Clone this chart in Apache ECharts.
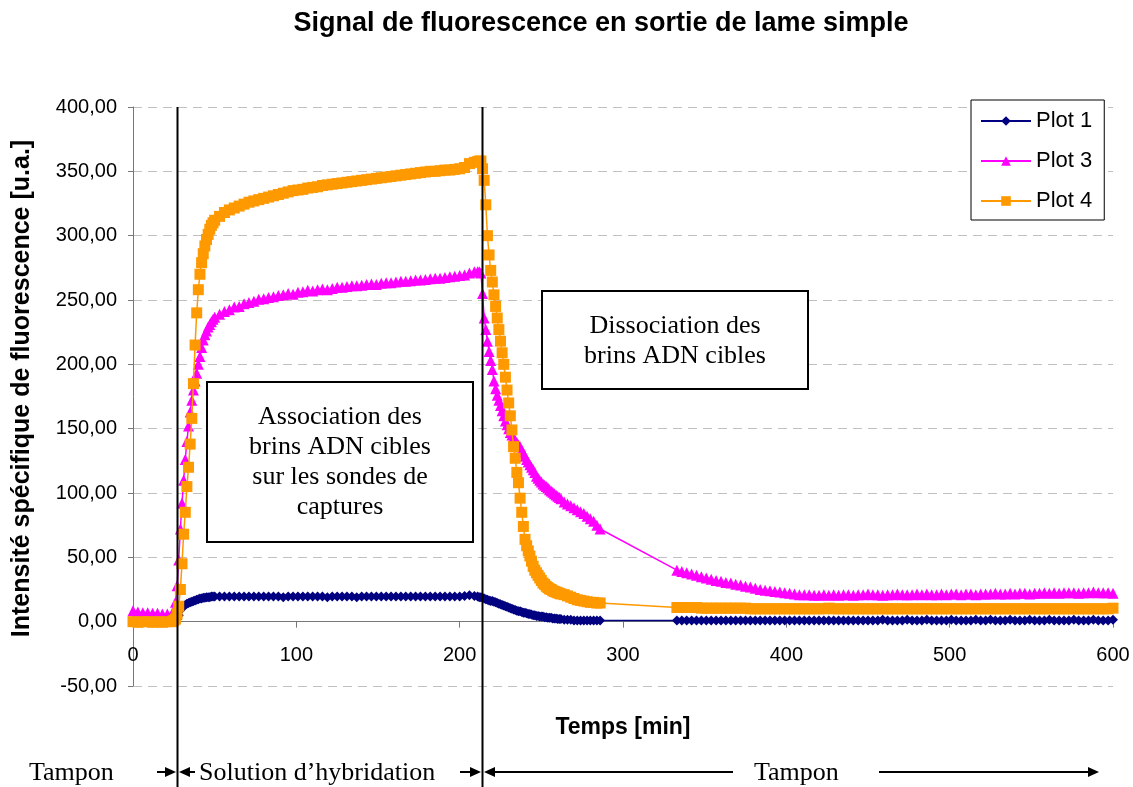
<!DOCTYPE html>
<html><head><meta charset="utf-8">
<script src="https://cdn.jsdelivr.net/npm/echarts@6/dist/echarts.min.js"></script>
<style>html,body{margin:0;padding:0;background:#fff}#c{width:1133px;height:787px}</style>
</head><body><div id="c"></div>
<script>
// ---------- DATA (time in min, values in u.a.) ----------
const titleText = 'Signal de fluorescence en sortie de lame simple';
const xName = 'Temps [min]';
const yName = 'Intensité spécifique de fluorescence [u.a.]';
const seriesNames = ['Plot 1', 'Plot 3', 'Plot 4'];
const phaseTimes = [27.2, 213.6];

// segment A : buffer
const tA  = [0,3,6,9,12,15,18,21,24];
const p1A = [0.5,0.5,0.5,0.5,0.5,0.5,0.5,0.5,0.5];
const p3A = [8.5,7.5,7,7,6.5,6.5,6,6,6.5];
const p4A = [0,-0.5,0,0,-0.5,0,-0.5,0,0];
// segment B : association rise
const tB  = [25,26,27,28,29,30,31,32,33,34,35,36,37,38,39,40,41,42,43,44,45,46,47,48,49,50];
const p1B = [0.5,1,2,5,9,11,12,13,14,14.5,15,15.5,16,16.5,17,17.5,18,18,18.5,18.5,19,19,19,19.5,19.5,19.5];
const p3B = [8,15,28,48,72,92,110,126,140,152,163,172,180,187,193,200,206,213,219,223,226,229,231,233,235,236.5];
const p4B = [1,2,6,12,25,45,68,85,105,120,138,158,185,215,240,258,270,279,286,292,297,301,305,308,310,312];
// segment C : association plateau
const tC  = [53,56,59,62,65,68,71,74,77,80,83,86,89,92,95,98,101,104,107,110,113,116,119,122,125,128,131,134,137,140,143,146,149,152,155,158,161,164,167,170,173,176,179,182,185,188,191,194,197,200,203,206,209];
const p1C = [19.5,19.5,19.5,19.5,19.5,19.5,19.5,19.5,19.5,19.5,
             19.5,19.5,19.5,19,19.5,19.5,19.5,19.5,19.5,19.5,
             19.5,19.5,19,19.5,19.5,19.5,19.5,19.5,19,19.5,
             19.5,19.5,19.5,19.5,19.5,19.5,19.5,19.5,19.5,19.5,
             19.5,19.5,19.5,19.5,19.5,19.5,19.5,19.5,19.5,19.5,
             20,20.5,20];
const p3C = [239,241,242.5,244.5,245,247,248,249,250.5,251,
             252,252.5,253.5,254,255,254.5,256,256.5,257.5,257,
             258,258.5,258,259,260,260,260.5,261,261,261.5,
             262,262.5,262,263,263.5,263.5,264,264.5,264.5,265,
             265.5,265.5,266,266.5,267,267,267.5,268,268.5,269,
             269.5,271,272];
const p4C = [315,318,320,321.5,323,324.5,326,327,328,329,
             330,331,332,333,334,335,335.5,336,337,337.5,
             338,339,339.5,340,340.5,341,341.5,342,342.5,343,
             343.5,344,344.5,345,345.5,346,346.5,347,347.5,348,
             348.5,349,349.5,350,350,350.5,351,351,351.5,352,
             353,356,357];
// segment D : dissociation
const tD  = [211,212,213,214,215,216,217,218,219,220,221,222,223,224,225,226,227,228,229,230,231,232,233,234,235,236,237,238,239,240,241,242,243,244,245,246,247,248,249,250,251,252,253,254,255,256,257,258,259,260,261,262];
const p1D = [19.5,19,19,18.5,18,17.5,17,16.5,16,16,
             15.5,15,14.5,14,13.5,13,12.5,12,11.5,11,
             10.5,10,9.5,9,8.5,8,8,7.5,7,7,
             6.5,6,6,5.5,5,5,4.5,4.5,4,4,
             4,3.5,3.5,3,3,3,2.5,2.5,2.5,2,
             2,2];
const p3D = [272,272,271,255,236,227,218,210,203,196,
             187,181,176,172,168,164,160,156,153,150,
             147,145,143,141,139,137.5,136,133.5,131,128.5,
             126,124,122,120,118,116,113,111.5,110,108.5,
             107,106,105,104,102.5,101.5,100.5,99.5,98.5,97.5,
             96.5,95.5];
const p4D = [357.5,358,358,352,343,324,300,285,273,264,
             254,245,236,227,218,209,200,190,180,170,
             160,149,136,127,116,108,96,85,74,64,
             59,55,51,47,43,40,38,36,34,32,
             30,29,27.5,26.5,25.5,25,24,23.5,23,22.5,
             22,21.5];
// segment E : end of first dissociation recording
const tE  = [264,266,268,270,272,274,276,278,280,282,284,286];
const p1E = [1.5,1.5,1.5,1,1,1,1,1,1,1,1,1];
const p3E = [93,91.5,90,88.5,87,85.5,84,82,80,78,75,72];
const p4E = [21,20,19,18,17,16.5,16,15.5,15,15,14.5,14.5];
// segment F : buffer, second recording
const tF  = [333,336,339,342,345,348,351,354,357,360,363,366,369,372,375,378,381,384,387,390,
             393,396,399,402,405,408,411,414,417,420,423,426,429,432,435,438,441,444,447,450,
             453,456,459,462,465,468,471,474,477,480,483,486,489,492,495,498,501,504,507,510,
             513,516,519,522,525,528,531,534,537,540,543,546,549,552,555,558,561,564,567,570,
             573,576,579,582,585,588,591,594,597,600];
const p1F = [1,1,1,1,1,1,1,1,1,1,
             1,1,1,1,1,1,1,1,1,1,
             1,1,1,1,1,1,1,1,1,1,
             1,1,1,1,1,1,1,1,1,1,
             1,1,1.5,1,1,1,1,1.5,1,1,
             1,1.5,1,1,1,1,1.5,1,1,1,
             1,1.5,1,1,1.5,1,1,1,1.5,1,
             1,1,1.5,1,1,1,1.5,1,1,1,
             1,1.5,1,1,1,1.5,1,1,1,1.5];
const p3F = [40,39,38,37,36,35,34,33,32,31.5,
             30.5,30,29,28.5,27.5,27,26,25,24.5,24,
             23.5,23,22.5,22,21.5,21,21,21,20.5,20.5,
             21,20.5,21,20.5,21,21,20.5,21,21,21.5,
             21,21,20.5,21,21,21.5,21,21,21,21.5,
             21,21.5,21,21,21.5,21,21.5,21.5,21,21.5,
             21.5,21,21.5,21.5,21.5,22,21.5,21.5,22,21.5,
             22,22,21.5,22,22,22.5,22,22.5,22,22.5,
             22.5,22.5,22,22.5,22.5,23,22.5,22.5,22.5,22];
const p4F = [11,11,11,11,11,10.5,10.5,10.5,10.5,10.5,
             10.5,10.5,10.5,10.5,10.5,10,10,10,10,10,
             10,10,10,10,10,10,10,10,10,10,
             10,10.5,10,10,10,10,10,10,10,10,
             10,10,10,10,10,10,10,10,10,10,
             10,10,10,10,10,10,10,10,10,10,
             10,10,10,10,10,10,10,10,10,10,
             10,10,10,10,10,10,10,10,10,10,
             10,10,10,10,10,10,10,10,10,10.5];

const time  = [].concat(tA,tB,tC,tD,tE,tF);
const plot1 = [].concat(p1A,p1B,p1C,p1D,p1E,p1F);
const plot3 = [].concat(p3A,p3B,p3C,p3D,p3E,p3F);
const plot4 = [].concat(p4A,p4B,p4C,p4D,p4E,p4F);

// ---------- CHART ----------
const sans = '"Liberation Sans", Arial, sans-serif';
const serif = '"Liberation Serif", "Times New Roman", serif';
const colors = ['#000080', '#FF00FF', '#FF9900'];
const symbols = ['diamond', 'triangle', 'rect'];
const symSizes = [10, 11, 11];
const values = [plot1, plot3, plot4];

function pairs(vals) { return time.map((t, i) => [t, vals[i]]); }

const Y_MIN = -50, Y_MAX = 400;
const gridTop = 107, gridBottom = 101, plotH = 787 - gridTop - gridBottom;
// x axis sits on value 0 (Excel style): shift it up from the grid bottom
const xAxisShift = -plotH * (0 - Y_MIN) / (Y_MAX - Y_MIN);

const chart = echarts.init(document.getElementById('c'), null, {renderer: 'canvas'});
chart.setOption({
  animation: false,
  title: {
    text: titleText, left: 596, top: 5, textAlign: 'center',
    textStyle: {fontFamily: sans, fontWeight: 'bold', fontSize: 27, color: '#000'}
  },
  grid: {left: 133, right: 20, top: gridTop, bottom: gridBottom, outerBoundsMode: 'none', containLabel: false},
  legend: {
    data: seriesNames, orient: 'vertical', left: 971, top: 100,
    padding: [10, 12, 8, 9], itemGap: 18, itemWidth: 50, itemHeight: 12,
    backgroundColor: '#fff', borderColor: '#000', borderWidth: 1, borderRadius: 0,
    selectedMode: false,
    textStyle: {fontFamily: sans, fontSize: 22, color: '#000'}
  },
  xAxis: {
    type: 'value', min: 0, max: 600, interval: 100, offset: xAxisShift,
    name: xName, nameLocation: 'middle', nameGap: 94,
    nameTextStyle: {fontFamily: sans, fontWeight: 'bold', fontSize: 23, color: '#000'},
    axisLine: {show: true, onZero: false, lineStyle: {color: '#777', width: 1}},
    axisTick: {show: true, length: 6, lineStyle: {color: '#777'}},
    axisLabel: {fontFamily: sans, fontSize: 20, color: '#000', margin: 24},
    splitLine: {show: false}
  },
  yAxis: {
    type: 'value', min: Y_MIN, max: Y_MAX, interval: 50,
    name: yName, nameLocation: 'middle', nameGap: 98,
    nameTextStyle: {fontFamily: sans, fontWeight: 'bold', fontSize: 25, color: '#000', padding: [0, 0, 0, 16]},
    axisLine: {show: true, lineStyle: {color: '#777', width: 1}},
    axisTick: {show: true, length: 5, lineStyle: {color: '#777'}},
    axisLabel: {fontFamily: sans, fontSize: 20, color: '#000', margin: 16,
      formatter: v => v.toFixed(2).replace('.', ',')},
    splitLine: {show: true, lineStyle: {color: '#c0c0c0', type: [9, 6], width: 1}}
  },
  series: seriesNames.map((n, i) => ({
    name: n, type: 'line', data: pairs(values[i]),
    symbol: symbols[i], symbolSize: symSizes[i], showAllSymbol: true,
    lineStyle: {color: colors[i], width: 1.5},
    itemStyle: {color: colors[i]},
    emphasis: {disabled: true}, silent: true, z: 2 + i
  }))
});

// ---------- ANNOTATIONS ----------
const els = [];
const gTop = chart.convertToPixel({gridIndex: 0}, [0, Y_MAX])[1];
phaseTimes.forEach(t => {
  const x = Math.round(chart.convertToPixel({gridIndex: 0}, [t, 0])[0]) + 0.5;
  els.push({type: 'line', z: 50, shape: {x1: x, y1: gTop, x2: x, y2: 787},
    style: {stroke: '#000', lineWidth: 2}});
});
function box(x, y, w, h, lines, cx, y0, lh) {
  els.push({type: 'rect', z: 60, shape: {x: x, y: y, width: w, height: h},
    style: {fill: '#fff', stroke: '#000', lineWidth: 2}});
  lines.forEach((s, k) => els.push({type: 'text', z: 61,
    style: {text: s, x: cx, y: y0 + k * lh, align: 'center', verticalAlign: 'middle',
      font: '26px ' + serif, fill: '#000'}}));
}
box(207, 382, 266, 160, ['Association des', 'brins ADN cibles', 'sur les sondes de', 'captures'], 340, 417, 30);
box(542, 291, 266, 98, ['Dissociation des', 'brins ADN cibles'], 675, 326, 30);

const yb = 772;
function arrow(x1, x2) {
  const d = x2 > x1 ? 1 : -1;
  els.push({type: 'line', z: 60, shape: {x1: x1, y1: yb, x2: x2 - d * 8, y2: yb},
    style: {stroke: '#000', lineWidth: 2}});
  els.push({type: 'polygon', z: 60, shape: {points: [[x2, yb], [x2 - d * 11, yb - 5], [x2 - d * 11, yb + 5]]},
    style: {fill: '#000'}});
}
function label(s, x) {
  els.push({type: 'text', z: 61, style: {text: s, x: x, y: yb + 1, align: 'left', verticalAlign: 'middle',
    font: '26px ' + serif, fill: '#000'}});
}
label('Tampon', 29);
arrow(157, 176);
arrow(195, 179);
label('Solution d\u2019hybridation', 199);
arrow(460, 481);
arrow(733, 484);
label('Tampon', 754);
arrow(879, 1099);

chart.setOption({graphic: {elements: els}});
</script>
</body></html>
